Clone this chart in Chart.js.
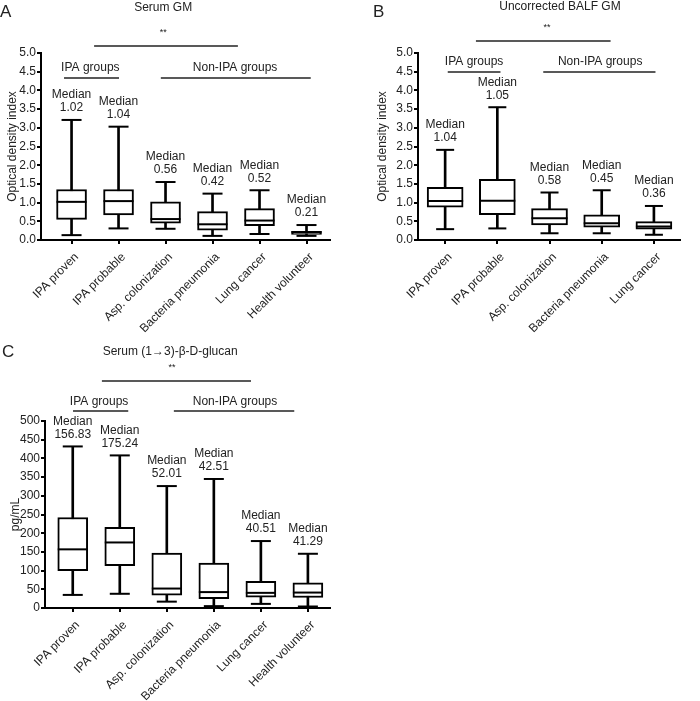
<html>
<head>
  <script src="https://cdn.jsdelivr.net/npm/chart.js@4.4.0/dist/chart.umd.min.js"></script>
  <style>
    body { margin: 0; background: #fff; }
    canvas { position: absolute; }
  </style>
</head>
<body>
  <canvas id="chartA" style="left:0;top:0;width:350px;height:350px"></canvas>
  <canvas id="chartB" style="left:350px;top:0;width:350px;height:350px"></canvas>
  <canvas id="chartC" style="left:0;top:340px;width:350px;height:361px"></canvas>
  <script>
    // panel A - serum GM
    const categoriesA = ["IPA proven", "IPA probable", "Asp. colonization", "Bacteria pneumonia", "Lung cancer", "Health volunteer"];
    const minA = [0.13, 0.31, 0.30, 0.11, 0.16, 0.11];
    const q1A = [0.55, 0.67, 0.45, 0.26, 0.38, 0.15];
    const medianA = [1.02, 1.04, 0.56, 0.42, 0.52, 0.21];
    const q3A = [1.35, 1.35, 1.02, 0.76, 0.84, 0.23];
    const maxA = [3.21, 3.03, 1.55, 1.24, 1.33, 0.40];

    // panel B - uncorrected BALF GM
    const categoriesB = ["IPA proven", "IPA probable", "Asp. colonization", "Bacteria pneumonia", "Lung cancer"];
    const minB = [0.29, 0.31, 0.18, 0.18, 0.14];
    const q1B = [0.88, 0.68, 0.40, 0.34, 0.29];
    const medianB = [1.04, 1.05, 0.58, 0.45, 0.36];
    const q3B = [1.41, 1.62, 0.84, 0.67, 0.49];
    const maxB = [2.41, 3.55, 1.27, 1.33, 0.91];

    // panel C - serum (1-3)-beta-D-glucan
    const categoriesC = ["IPA proven", "IPA probable", "Asp. colonization", "Bacteria pneumonia", "Lung cancer", "Health volunteer"];
    const minC = [35, 38, 17, 5, 11, 4];
    const q1C = [100, 113, 34, 25, 29, 28];
    const medianC = [156.83, 175.24, 52.01, 42.51, 40.51, 41.29];
    const q3C = [242, 216, 147, 120, 71, 67];
    const maxC = [432, 408, 326, 345, 179, 145];

    const FONT = "'Liberation Sans', Arial, sans-serif";
    const INK = "#222";
    Chart.defaults.font.family = FONT;
    Chart.defaults.font.size = 12;
    Chart.defaults.color = INK;

    const decoPlugin = {
      id: "deco",
      afterDraw(chart) {
        const d = chart.options.plugins.deco;
        const ctx = chart.ctx;
        const xs = chart.scales.x, ys = chart.scales.y;
        ctx.save();
        ctx.fillStyle = INK;
        ctx.strokeStyle = INK;
        ctx.textBaseline = "middle";
        // panel letter
        ctx.font = "17px " + FONT;
        ctx.textAlign = "left";
        ctx.fillText(d.letter, d.letterX, d.letterY);
        ctx.font = "12px " + FONT;
        ctx.textAlign = "center";
        ctx.fillText(d.title, xs.getPixelForValue(d.titleX), d.titleY);
        ctx.font = "9px " + FONT;
        ctx.fillText("**", xs.getPixelForValue(d.starX), d.starY);
        ctx.font = "12px " + FONT;
        ctx.fillText("IPA groups", xs.getPixelForValue(d.ipaText), d.groupY);
        ctx.fillText("Non-IPA groups", xs.getPixelForValue(d.nonText), d.groupY);
        ctx.lineWidth = 1.5;
        const hline = (a, b, y) => {
          ctx.beginPath();
          ctx.moveTo(xs.getPixelForValue(a), y);
          ctx.lineTo(xs.getPixelForValue(b), y);
          ctx.stroke();
        };
        hline(d.starLine[0], d.starLine[1], d.starLineY);
        hline(d.ipaLine[0], d.ipaLine[1], d.groupLineY);
        hline(d.nonLine[0], d.nonLine[1], d.groupLineY);
        // median labels above each whisker
        d.medians.forEach((m, i) => {
          const x = xs.getPixelForValue(i);
          const y = ys.getPixelForValue(d.tops[i]);
          ctx.fillText("Median", x, y - 25);
          ctx.fillText(m.toFixed(2), x, y - 12);
        });
        ctx.restore();
      }
    };

    function boxPanel(id, cats, lo, q1, med, q3, hi, o) {
      const pts = (arr) => arr.map((v, i) => ({ x: i, y: v }));
      new Chart(id, {
        type: "bar",
        data: {
          datasets: [
            {
              type: "bar",
              data: cats.map((c, i) => ({ x: i, y: [lo[i], hi[i]] })),
              backgroundColor: "#000",
              barThickness: 2,
              grouped: false,
              order: 3
            },
            {
              type: "bar",
              data: cats.map((c, i) => ({ x: i, y: [q1[i], q3[i]] })),
              backgroundColor: "#fff",
              borderColor: "#000",
              borderWidth: 2,
              borderSkipped: false,
              barThickness: o.boxW,
              grouped: false,
              order: 2
            },
            {
              type: "scatter",
              data: pts(med),
              pointStyle: "line",
              pointRadius: o.boxW / 2,
              borderColor: "#000",
              borderWidth: 2,
              order: 1
            },
            {
              type: "scatter",
              data: pts(lo).concat(pts(hi)),
              pointStyle: "line",
              pointRadius: o.capW / 2,
              borderColor: "#000",
              borderWidth: 2,
              order: 1
            }
          ]
        },
        options: {
          responsive: false,
          animation: false,
          layout: { padding: o.padding },
          plugins: {
            legend: { display: false },
            tooltip: { enabled: false },
            deco: Object.assign({ medians: med, tops: hi }, o.deco)
          },
          scales: {
            x: {
              type: "linear",
              min: o.xMin,
              max: o.xMax,
              offset: false,
              afterBuildTicks: (s) => { s.ticks = cats.map((c, i) => ({ value: i })); },
              afterFit: (s) => { s.height = o.xHeight; },
              ticks: {
                autoSkip: false,
                minRotation: 45,
                maxRotation: 45,
                padding: 6,
                labelOffset: 5,
                callback: (v) => cats[v] || ""
              },
              grid: { offset: false, drawOnChartArea: false, drawTicks: true, tickLength: 4, color: "#000", lineWidth: 2 },
              border: { display: true, color: "#000", width: 2 }
            },
            y: {
              min: 0,
              max: o.yMax,
              afterFit: (s) => { s.width = o.yWidth; },
              ticks: {
                stepSize: o.yStep,
                padding: 1,
                callback: o.yFmt
              },
              title: { display: true, text: o.yTitle, font: { size: 12 }, padding: { top: 4, bottom: 0 } },
              grid: { drawOnChartArea: false, drawTicks: true, tickLength: 4, color: "#000", lineWidth: 2 },
              border: { display: true, color: "#000", width: 2 }
            }
          }
        },
        plugins: [decoPlugin]
      });
    }

    const c1 = document.getElementById("chartA"); c1.width = 350; c1.height = 350;
    const c2 = document.getElementById("chartB"); c2.width = 350; c2.height = 350;
    const c3 = document.getElementById("chartC"); c3.width = 350; c3.height = 361;

    boxPanel("chartA", categoriesA, minA, q1A, medianA, q3A, maxA, {
      boxW: 30, capW: 20, xMin: -0.65, xMax: 5.5, yMax: 5, yStep: 0.5,
      yFmt: (v) => v.toFixed(1), yTitle: "Optical density index",
      padding: { top: 53, right: 20, left: 1, bottom: 0 }, yWidth: 40, xHeight: 110,
      deco: {
        letter: "A", letterX: 0, letterY: 12, title: "Serum GM", titleX: 1.95, titleY: 8,
        starX: 1.95, starY: 33, starLine: [0.48, 3.54], starLineY: 46,
        ipaText: 0.40, nonText: 3.48, groupY: 68, ipaLine: [-0.16, 1.01], nonLine: [1.90, 5.09], groupLineY: 78
      }
    });

    boxPanel("chartB", categoriesB, minB, q1B, medianB, q3B, maxB, {
      boxW: 36, capW: 18, xMin: -0.52, xMax: 4.5, yMax: 5, yStep: 0.5,
      yFmt: (v) => v.toFixed(1), yTitle: "Optical density index",
      padding: { top: 53, right: 2, left: 21, bottom: 0 }, yWidth: 47, xHeight: 110,
      deco: {
        letter: "B", letterX: 23, letterY: 12, title: "Uncorrected BALF GM", titleX: 2.2, titleY: 7,
        starX: 1.95, starY: 28, starLine: [0.59, 3.17], starLineY: 41,
        ipaText: 0.555, nonText: 2.97, groupY: 62, ipaLine: [0.05, 1.06], nonLine: [1.88, 4.03], groupLineY: 72
      }
    });

    boxPanel("chartC", categoriesC, minC, q1C, medianC, q3C, maxC, {
      boxW: 30, capW: 20, xMin: -0.59, xMax: 5.47, yMax: 500, yStep: 50,
      yFmt: (v) => v, yTitle: "pg/mL",
      padding: { top: 81, right: 20, left: 4, bottom: 0 }, yWidth: 41, xHeight: 93,
      deco: {
        letter: "C", letterX: 2, letterY: 12, title: "Serum (1\u21923)-\u03b2-D-glucan", titleX: 2.07, titleY: 12,
        starX: 2.11, starY: 28, starLine: [0.62, 3.79], starLineY: 41,
        ipaText: 0.56, nonText: 3.45, groupY: 62, ipaLine: [0.006, 1.18], nonLine: [2.15, 4.71], groupLineY: 71
      }
    });
  </script>
</body>
</html>
